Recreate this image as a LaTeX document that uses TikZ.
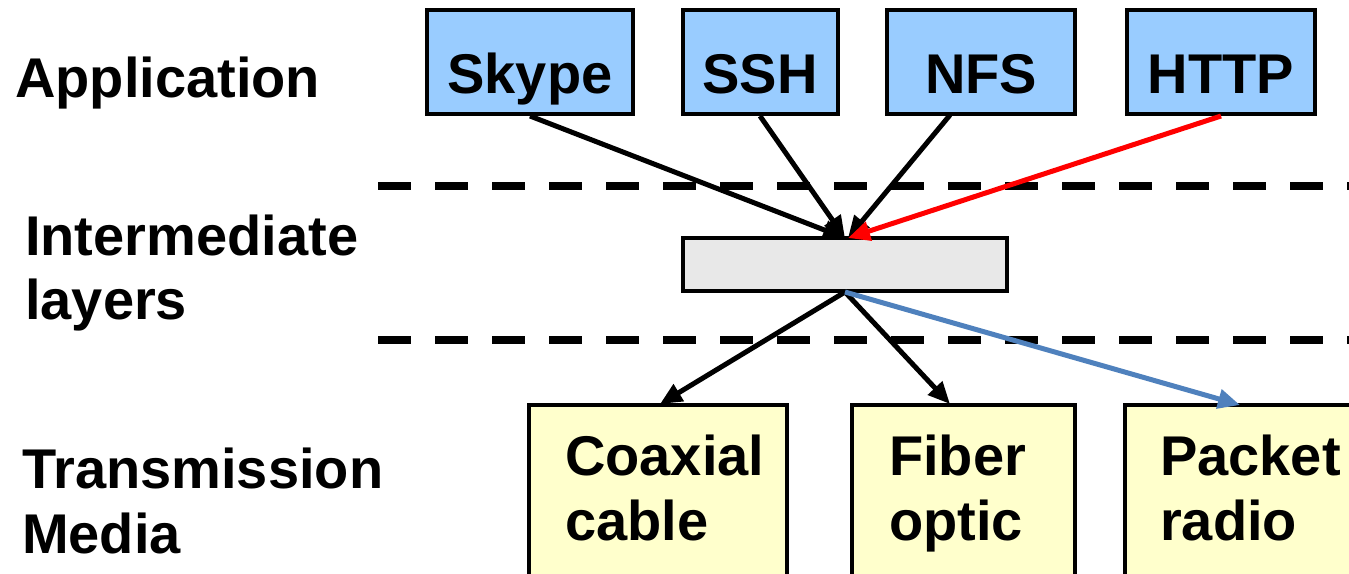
\documentclass[tikz,border=0pt]{standalone}
\usepackage{fontspec}
\setmainfont{Liberation Sans}
\usetikzlibrary{arrows.meta}
\definecolor{appblue}{HTML}{99CCFF}
\definecolor{medyellow}{HTML}{FFFFCC}
\definecolor{midgray}{HTML}{E8E8E8}
\definecolor{linkblue}{HTML}{4F81BD}
\tikzset{
  txt/.style={font=\bfseries\fontsize{56}{64}\selectfont, inner sep=0pt, anchor=base west},
  ctxt/.style={txt, anchor=base},
  appbox/.style={draw=black, line width=4pt, fill=appblue, inner sep=0pt},
  medbox/.style={draw=black, line width=4pt, fill=medyellow, inner sep=0pt},
  midbox/.style={draw=black, line width=4pt, fill=midgray, inner sep=0pt},
  sep/.style={line width=8pt, dash pattern=on 33pt off 24pt},
  link/.style={line width=5pt, -{Triangle[length=22pt,width=19pt]}},
}
\begin{document}
\begin{tikzpicture}[x=1pt,y=-1pt]
\useasboundingbox (0,0) rectangle (1349,573);
\clip (0,0) rectangle (1349,573);
% layer labels
\node[txt] (lapp) at (15,97) {Application};
\node[txt] (lint1) at (25,255) {Intermediate};
\node[txt] (lint2) at (25,319) {layers};
\node[txt] (ltr1) at (22,488) {Transmission};
\node[txt] (ltr2) at (22,553) {Media};
% separators
\coordinate (s1a) at (378,186); \coordinate (s1b) at (1349,186);
\coordinate (s2a) at (378,340); \coordinate (s2b) at (1349,340);
\draw[sep] (s1a) -- (s1b);
\draw[sep] (s2a) -- (s2b);
% application boxes
\node[appbox, minimum width=206pt, minimum height=104pt] (skype) at (530,62) {};
\node[appbox, minimum width=155pt, minimum height=104pt] (ssh) at (760,62) {};
\node[appbox, minimum width=188pt, minimum height=104pt] (nfs) at (981,62) {};
\node[appbox, minimum width=188pt, minimum height=104pt] (http) at (1221,62) {};
\node[ctxt] (tskype) at (530,93) {Skype};
\node[ctxt] (tssh) at (760,93) {SSH};
\node[ctxt] (tnfs) at (981,93) {NFS};
\node[ctxt] (thttp) at (1221,93) {HTTP};
% intermediate box
\node[midbox, minimum width=324pt, minimum height=53pt] (mid) at (845,264.5) {};
% media boxes
\node[medbox, minimum width=258pt, minimum height=200pt] (coax) at (658,505) {};
\node[medbox, minimum width=223pt, minimum height=200pt] (fiber) at (963.5,505) {};
\node[medbox, minimum width=260pt, minimum height=200pt] (packet) at (1255,505) {};
\node[txt] (tcoax1) at (565,475) {Coaxial};
\node[txt] (tcoax2) at (565,540) {cable};
\node[txt] (tfib1) at (889,475) {Fiber};
\node[txt] (tfib2) at (889,540) {optic};
\node[txt] (tpk1) at (1160,475) {Packet};
\node[txt] (tpk2) at (1160,540) {radio};
% connector end points
\coordinate (nfsout) at (950,115);
\coordinate (midin) at (845,238);
\coordinate (midinr) at (848,238);
\coordinate (midout) at (845,292);
\coordinate (coaxin) at (660,404);
\coordinate (fibin) at (950,404);
\coordinate (pkin) at (1240,405);
% connectors
\draw[link] (skype.south) -- (midin);
\draw[link] (ssh.south) -- (midin);
\draw[link] (nfsout) -- (midinr);
\draw[link, red] (http.south) -- (midinr);
\draw[link] (midout) -- (coaxin);
\draw[link] (midout) -- (fibin);
\draw[link, linkblue] (midout) -- (pkin);
\end{tikzpicture}
\end{document}
